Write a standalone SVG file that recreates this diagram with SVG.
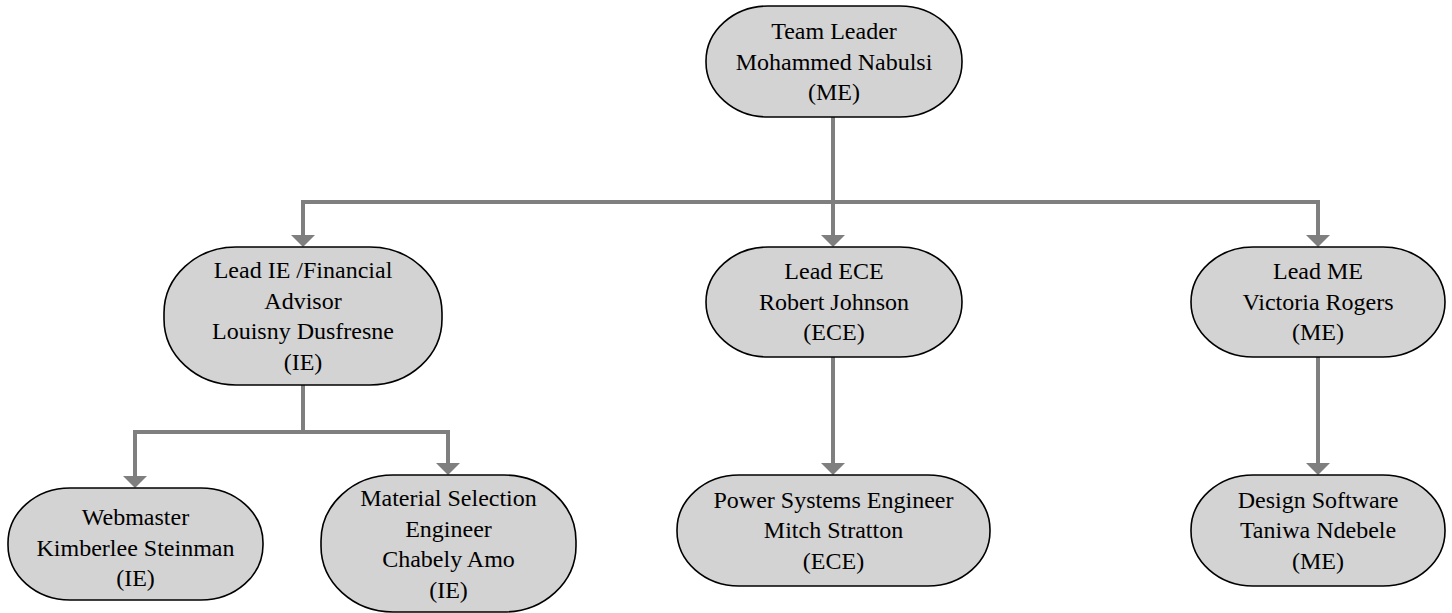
<svg xmlns="http://www.w3.org/2000/svg" width="1452" height="613" viewBox="0 0 1452 613">
<style>
.node rect{fill:#d3d3d3;stroke:#000;stroke-width:1.6}
.node text{font-family:"Liberation Serif","Times New Roman",serif;font-size:24px;fill:#000;text-anchor:middle}
.conn path{fill:none;stroke:#7f7f7f;stroke-width:4}
.conn polygon{fill:#7f7f7f;stroke:none}
</style>
<rect width="1452" height="613" fill="#fff"/>
<g class="conn" id="connectors">
<path d="M833,117 V235"/>
<path d="M303,235 V202 H1318 V235"/>
<path d="M303,385 V432"/>
<path d="M135,476 V432 H448 V463"/>
<path d="M833,357 V463"/>
<path d="M1318,357 V463"/>
<polygon points="291,235 315,235 303,247"/>
<polygon points="821,235 845,235 833,247"/>
<polygon points="1306,235 1330,235 1318,247"/>
<polygon points="123,476 147,476 135,488"/>
<polygon points="436,463 460,463 448,475"/>
<polygon points="821,463 845,463 833,475"/>
<polygon points="1306,463 1330,463 1318,475"/>
</g>
<g class="node" id="team-leader">
<rect x="706" y="6" width="256" height="111" rx="62" ry="55"/>
<text x="834" y="39">Team Leader</text>
<text x="834" y="69.5">Mohammed Nabulsi</text>
<text x="834" y="100">(ME)</text>
</g>
<g class="node" id="lead-ie">
<rect x="164" y="247" width="278" height="138" rx="72" ry="66"/>
<text x="303" y="278">Lead IE /Financial</text>
<text x="303" y="308.5">Advisor</text>
<text x="303" y="339">Louisny Dusfresne</text>
<text x="303" y="369.5">(IE)</text>
</g>
<g class="node" id="lead-ece">
<rect x="706" y="247" width="256" height="110" rx="62" ry="55"/>
<text x="834" y="279">Lead ECE</text>
<text x="834" y="309.5">Robert Johnson</text>
<text x="834" y="340">(ECE)</text>
</g>
<g class="node" id="lead-me">
<rect x="1191" y="247" width="254" height="110" rx="62" ry="55"/>
<text x="1318" y="279">Lead ME</text>
<text x="1318" y="309.5">Victoria Rogers</text>
<text x="1318" y="340">(ME)</text>
</g>
<g class="node" id="webmaster">
<rect x="8" y="488" width="255" height="112" rx="62" ry="55"/>
<text x="135.5" y="525">Webmaster</text>
<text x="135.5" y="555.5">Kimberlee Steinman</text>
<text x="135.5" y="586">(IE)</text>
</g>
<g class="node" id="material">
<rect x="321" y="475" width="255" height="137" rx="72" ry="66"/>
<text x="448.5" y="506">Material Selection</text>
<text x="448.5" y="536.5">Engineer</text>
<text x="448.5" y="567">Chabely Amo</text>
<text x="448.5" y="597.5">(IE)</text>
</g>
<g class="node" id="power">
<rect x="677" y="475" width="313" height="111" rx="62" ry="55"/>
<text x="833.5" y="507.5">Power Systems Engineer</text>
<text x="833.5" y="538">Mitch Stratton</text>
<text x="833.5" y="568.5">(ECE)</text>
</g>
<g class="node" id="design">
<rect x="1191" y="475" width="254" height="111" rx="62" ry="55"/>
<text x="1318" y="507.5">Design Software</text>
<text x="1318" y="538">Taniwa Ndebele</text>
<text x="1318" y="568.5">(ME)</text>
</g>
</svg>
